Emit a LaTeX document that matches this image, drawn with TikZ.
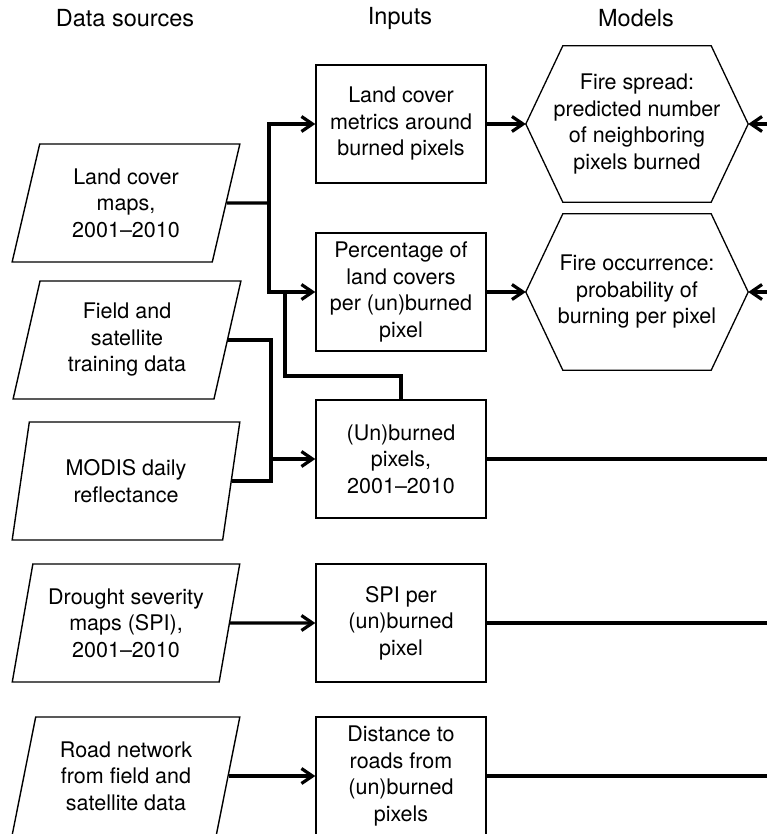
\documentclass[tikz,border=0pt]{standalone}
\usepackage{fontspec}
\setmainfont{TeX Gyre Heros}
\usetikzlibrary{positioning,shapes.geometric,arrows.meta,calc}
\tikzset{
  >={Straight Barb[length=11pt,width=15pt]},
  every node/.style={font=\fontsize{21.5}{26.5}\selectfont},
  % --- nodes
  src/.style = {trapezium, trapezium left angle=76, trapezium right angle=104,
                trapezium stretches=true, draw, line width=1.4pt, align=center,
                minimum width=228, minimum height=118, inner sep=0pt},
  inp/.style = {rectangle, draw, line width=1.4pt, align=center,
                minimum width=170, minimum height=118, inner sep=0pt},
  mdl/.style = {align=center, minimum width=222, minimum height=156, inner sep=0pt},
  hdr/.style = {font=\fontsize{23.5}{28}\selectfont},
  % --- edges
  ln/.style  = {line width=3.2pt},
  e/.style   = {ln, ->},
}
\begin{document}
\begin{tikzpicture}[x=1pt,y=-1pt]
  \clip (0,0) rectangle (767,834);
  % column heads
  \node[hdr] (hsrc) at (125,18) {Data sources};
  \node[hdr] (hinp) at (400,18) {Inputs};
  \node[hdr] (hmdl) at (636,18) {Models};
  % data sources
  \node[src] (lcmap)   at (126,203) {Land cover\\maps,\\2001--2010};
  \node[src] (field)   at (127,340) {Field and\\satellite\\training data};
  \node[src] (modis)   at (126,481) {MODIS daily\\reflectance};
  \node[src] (drought) at (126,623) {Drought severity\\maps (SPI),\\2001--2010};
  \node[src] (road)    at (126,776) {Road network\\from field and\\satellite data};
  % inputs
  \node[inp] (metric) at (401,124) {Land cover\\metrics around\\burned pixels};
  \node[inp] (pct)    at (401,292) {Percentage of\\land covers\\per (un)burned\\pixel};
  \node[inp] (unb)    at (401,459) {(Un)burned\\pixels,\\2001--2010};
  \node[inp] (spi)    at (401,623) {SPI per\\(un)burned\\pixel};
  \node[inp] (dist)   at (401,776) {Distance to\\roads from\\(un)burned\\pixels};
  % models
  \node[mdl] (spread) at (637,124) {Fire spread:\\predicted number\\of neighboring\\pixels burned};
  \node[mdl] (occur)  at (637,292) {Fire occurrence:\\probability of\\burning per pixel};
  \foreach \m in {spread,occur}
    \draw[line width=1.3pt] (\m.west) -- ([xshift=37pt]\m.north west)
      -- ([xshift=-37pt]\m.north east) -- (\m.east)
      -- ([xshift=-37pt]\m.south east) -- ([xshift=37pt]\m.south west) -- cycle;
  % joints and free ends
  \coordinate (j1) at (269,203);
  \coordinate (j2) at (285,292);
  \coordinate (j3) at (271,459);
  \coordinate (rspread) at (790,124);
  \coordinate (roccur)  at (790,292);
  \coordinate (runb)    at (790,459);
  \coordinate (rspi)    at (790,623);
  \coordinate (rdist)   at (790,776);
  % connectors
  \draw[ln] (lcmap.east) -- (j1);
  \draw[e] (j1) |- (metric.west);
  \draw[e] (j1) |- (pct.west);
  \draw[ln] (j2) -- ++(0,84) -| (unb.north);
  \draw[ln] (field.east) -| (j3) |- (modis.east);
  \draw[e] (j3) -- (unb.west);
  \draw[e] (drought.east) -- (spi.west);
  \draw[e] (road.east) -- (dist.west);
  \draw[e] (metric.east) -- (spread.west);
  \draw[e] (pct.east) -- (occur.west);
  \draw[e] (rspread) -- (spread.east);
  \draw[e] (roccur) -- (occur.east);
  \draw[ln] (unb.east) -- (runb);
  \draw[ln] (spi.east) -- (rspi);
  \draw[ln] (dist.east) -- (rdist);
\end{tikzpicture}
\end{document}
